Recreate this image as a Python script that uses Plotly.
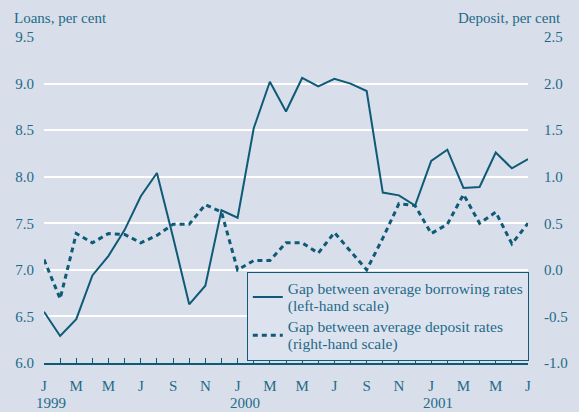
import plotly.graph_objects as go

# ---- data ----
months = [f"{y}-{m:02d}" for y in (1999, 2000, 2001) for m in range(1, 13)][:31]

borrowing_gap = [6.55, 6.29, 6.47, 6.94, 7.15, 7.43, 7.79, 8.04, 7.35, 6.63, 6.83, 7.64,
                 7.56, 8.52, 9.02, 8.70, 9.06, 8.97, 9.05, 9.00, 8.92, 7.83, 7.80, 7.69,
                 8.17, 8.29, 7.88, 7.89, 8.26, 8.09, 8.19]

deposit_gap = [0.11, -0.31, 0.39, 0.29, 0.39, 0.38, 0.29, 0.37, 0.49, 0.49, 0.70, 0.62,
               0.00, 0.10, 0.10, 0.29, 0.29, 0.18, 0.40, 0.20, 0.00, 0.34, 0.71, 0.69,
               0.39, 0.49, 0.81, 0.50, 0.62, 0.28, 0.50]

month_initials = ["J", "F", "M", "A", "M", "J", "J", "A", "S", "O", "N", "D"]
tick_text = [month_initials[i % 12] if i % 2 == 0 else "" for i in range(len(months))]
year_labels = ["1999", "2000", "2001"]
year_positions = ["1999-01", "2000-01", "2001-01"]

left_ticks = [6.0, 6.5, 7.0, 7.5, 8.0, 8.5, 9.0, 9.5]
right_ticks = [-1.0, -0.5, 0.0, 0.5, 1.0, 1.5, 2.0, 2.5]
right_tick_text = ["-1.0", "-0.5", "0.0", "0.5", "1.0", "1.5", "2.0", "2.5"]

series_names = [
    ["Gap between average borrowing rates", "(left-hand scale)"],
    ["Gap between average deposit rates", "(right-hand scale)"],
]

# ---- style ----
FONT = "Liberation Serif"
TEXT = "#1f6a89"
LINE = "#0f5a77"
BG = "#d8dfea"


def legend_label(lines):
    return "<br>".join(f"<span style='font-size:15.5px'>{t}</span>" for t in lines)


fig = go.Figure()
fig.add_trace(go.Scatter(
    x=months, y=borrowing_gap, mode="lines",
    name=legend_label(series_names[0]),
    line=dict(color=LINE, width=2), yaxis="y"))
fig.add_trace(go.Scatter(
    x=months, y=deposit_gap, mode="lines",
    name=legend_label(series_names[1]),
    line=dict(color=LINE, width=3, dash="5px,4px"), yaxis="y2"))

annotations = [
    dict(text="Loans, per cent", xref="paper", yref="paper", x=-0.0661, y=1.058,
         xanchor="left", yanchor="middle", showarrow=False,
         font=dict(family=FONT, size=15, color=TEXT)),
    dict(text="Deposit, per cent", xref="paper", yref="paper", x=1.073, y=1.058,
         xanchor="right", yanchor="middle", showarrow=False,
         font=dict(family=FONT, size=15, color=TEXT)),
]
for lab, pos in zip(year_labels, year_positions):
    annotations.append(dict(text=lab, xref="x", yref="paper", x=pos, y=-0.124,
                            xshift=7, xanchor="center", yanchor="middle", showarrow=False,
                            font=dict(family=FONT, size=15, color=TEXT)))

fig.update_layout(
    width=579, height=412,
    margin=dict(l=44, r=51, t=37, b=49, autoexpand=False),
    paper_bgcolor=BG, plot_bgcolor=BG,
    font=dict(family=FONT, size=15, color=TEXT),
    hovermode=False,
    showlegend=True,
    legend=dict(x=0.419, y=0.279, xanchor="left", yanchor="top",
                bgcolor="#dde3ee", bordercolor=LINE, borderwidth=1,
                font=dict(family=FONT, size=13.5, color=TEXT),
                tracegroupgap=0, itemwidth=30),
    xaxis=dict(type="category", range=[0, len(months) - 1], automargin=False,
               tickmode="array", tickvals=months, ticktext=tick_text,
               ticks="inside", ticklen=5, tickcolor=LINE, tickwidth=1,
               showline=True, linecolor=LINE, linewidth=1.5,
               showgrid=False, zeroline=False,
               tickfont=dict(family=FONT, size=15, color=TEXT),
               ticklabelstandoff=8),
    yaxis=dict(range=[6.0, 9.5], tickvals=left_ticks, tickformat=".1f", automargin=False,
               showgrid=True, gridcolor="white", gridwidth=2,
               zeroline=False, showline=False, ticks="",
               tickfont=dict(family=FONT, size=15, color=TEXT),
               ticklabelstandoff=9),
    yaxis2=dict(range=[-1.0, 2.5], tickvals=right_ticks, ticktext=right_tick_text,
                automargin=False,
                overlaying="y", side="right", showgrid=False,
                zeroline=False, showline=False, ticks="",
                tickfont=dict(family=FONT, size=15, color=TEXT),
                ticklabelstandoff=15),
    annotations=annotations,
)

fig.write_html("out.html", config={"displayModeBar": False, "staticPlot": True},
               post_script="document.body.style.margin='0';document.body.style.overflow='hidden';")
